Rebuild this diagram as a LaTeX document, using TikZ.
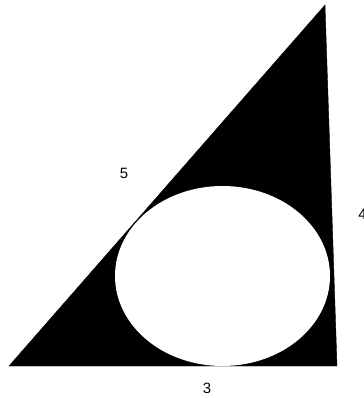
\documentclass[tikz,border=0pt]{standalone}
\usepackage{fontspec}
\setmainfont{Liberation Sans}
\usetikzlibrary{positioning}

\begin{document}
\begin{tikzpicture}[
    x=1bp, y=-1bp,
    side_lbl/.style={font=\fontsize{15}{18}\selectfont, inner sep=0pt},
    tri_fill/.style={fill=black, draw=black, line width=0.4pt},
    hole/.style={fill=white, draw=none}
]
    % Frame of the page
    \clip (0,0) rectangle (364,398);
    \useasboundingbox (0,0) rectangle (364,398);

    % Triangle corners
    \coordinate (bl) at (9, 366);
    \coordinate (br) at (337, 366);
    \coordinate (tp) at (325, 5);

    % Filled triangle
    \fill[tri_fill] (bl) -- (br) -- (tp) -- cycle;

    % White ellipse inside
    \fill[hole] (222.5, 276) ellipse [x radius=107.5, y radius=90];

    % Side lengths
    \node[side_lbl] (hyp) at (124, 173) {5};
    \node[side_lbl] (vert) at (362.5, 214) {4};
    \node[side_lbl] (base) at (207, 388) {3};

\end{tikzpicture}
\end{document}
